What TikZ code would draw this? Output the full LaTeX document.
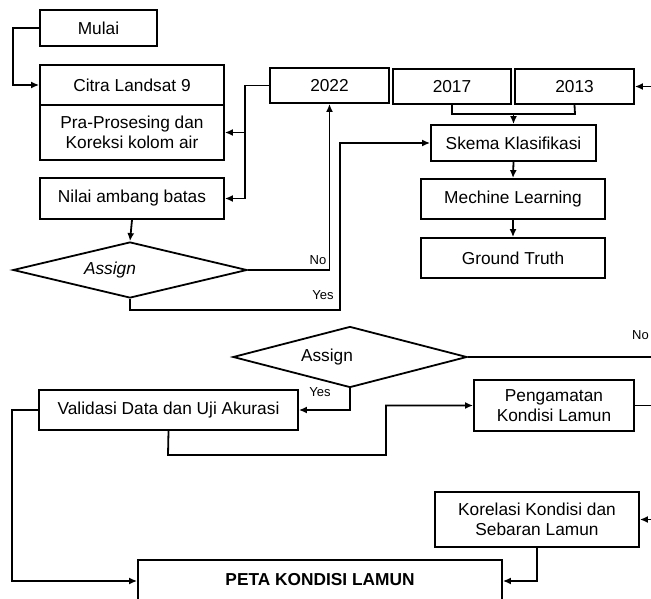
\documentclass[tikz,border=0pt]{standalone}
\usepackage{fontspec}
\setmainfont{Liberation Sans}
\usetikzlibrary{arrows.meta,shapes.geometric}
\begin{document}
\begin{tikzpicture}[x=1pt,y=-1pt,
  every node/.style={font=\fontsize{17.3}{20}\selectfont},
  box/.style={draw,line width=1.8pt,inner sep=0pt,align=center},
  dia/.style={draw,line width=1.8pt,diamond,inner sep=0pt,aspect=4},
  conn/.style={line width=1.8pt},
  arr/.style={conn,-{Latex[length=8pt,width=7pt]}},
  lbl/.style={font=\fontsize{13}{15}\selectfont,inner sep=0pt}]
\useasboundingbox (0,0) rectangle (651,599);
% boxes
\node[box,minimum width=117pt,minimum height=36pt] (mulai) at (98.5,28) {Mulai};
\node[box,minimum width=184pt,minimum height=40pt] (citra) at (132,85) {Citra Landsat 9};
\node[box,minimum width=184pt,minimum height=55pt] (pra) at (132,132.5) {Pra-Prosesing dan\\Koreksi kolom air};
\node[box,minimum width=184pt,minimum height=41pt] (nilai) at (132,198.5) {Nilai ambang batas};
\node[box,minimum width=119pt,minimum height=35pt] (y2022) at (329.5,85.5) {2022};
\node[box,minimum width=118pt,minimum height=35pt] (y2017) at (452,86.5) {2017};
\node[box,minimum width=119pt,minimum height=35pt] (y2013) at (574.5,86.5) {2013};
\node[box,minimum width=165pt,minimum height=36pt] (skema) at (513.5,143) {Skema Klasifikasi};
\node[box,minimum width=184pt,minimum height=40pt] (mech) at (513,199) {Mechine Learning};
\node[box,minimum width=184pt,minimum height=40pt] (ground) at (513,258) {Ground Truth};
\node[dia,minimum width=234pt,minimum height=56pt] (as1) at (130,270) {\itshape Assign\hspace*{40pt}};
\node[dia,minimum width=234pt,minimum height=61pt] (as2) at (350,357) {Assign\hspace*{46pt}};
\node[box,minimum width=259pt,minimum height=40pt] (valid) at (168.5,410) {Validasi Data dan Uji Akurasi};
\node[box,minimum width=160pt,minimum height=51pt] (amat) at (554,405.5) {Pengamatan\\Kondisi Lamun};
\node[box,minimum width=204pt,minimum height=55pt] (kor) at (537,519.5) {Korelasi Kondisi dan\\Sebaran Lamun};
\node[box,minimum width=364pt,minimum height=42pt] (peta) at (320,581) {\raisebox{4pt}{\bfseries PETA KONDISI LAMUN}};
% free ends
\coordinate (e2013) at (651,86.5);
\coordinate (eno) at (651,357);
\coordinate (eamat) at (651,405.5);
\coordinate (ekor) at (651,519.5);
% connectors
\draw[arr] (mulai.west) -- (13,28) |- (citra.west);
\draw[arr] (y2022.west) -- (245,85.5) |- (nilai.east);
\draw[arr] (245,132.5) -- (pra.east);
\draw[arr] (nilai.south) -- (as1.north);
\draw[arr] (as1.east) -| (y2022.south);
\node[lbl] at (318,260) {No};
\draw[arr] (as1.south) -- (130,310) -- (340,310) |- (skema.west);
\node[lbl] at (323,295) {Yes};
\draw[conn] (y2017.south) |- (575,114) -- (y2013.south);
\draw[arr] (skema.north |- 0,114) -- (skema.north);
\draw[arr] (e2013) -- (y2013.east);
\draw[arr] (skema.south) -- (mech.north);
\draw[arr] (mech.south) -- (ground.north);
\draw[conn] (as2.east) -- (eno);
\node[lbl,anchor=east] at (649,335) {No};
\draw[arr] (as2.south) |- (valid.east);
\node[lbl] at (320,392) {Yes};
\draw[arr] (valid.south) -- (168,455) -- (386,455) |- (amat.west);
\draw[conn] (amat.east) -- (eamat);
\draw[arr] (ekor) -- (kor.east);
\draw[arr] (kor.south) |- (peta.east);
\draw[arr] (valid.west) -- (12,410) |- (peta.west);
\end{tikzpicture}
\end{document}
